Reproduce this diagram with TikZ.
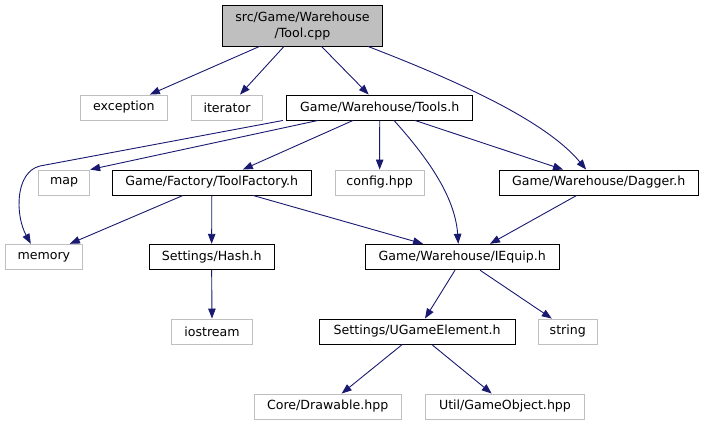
\documentclass[tikz,border=0pt]{standalone}
\usepackage{fontspec}
\setmainfont{DejaVu Sans}
\usetikzlibrary{arrows.meta}
\definecolor{edgeblue}{RGB}{25,25,112}
\definecolor{sysgray}{RGB}{191,191,191}
\definecolor{boxblack}{RGB}{0,0,0}
\tikzset{
  base/.style={draw, line width=0.9pt, inner sep=0pt, anchor=center, align=center,
    font=\fontsize{12.6}{15.5}\selectfont},
  blk/.style={base, draw=boxblack},
  sys/.style={base, draw=sysgray},
  rootbox/.style={base, draw=boxblack, fill=sysgray},
  edge/.style={draw=edgeblue, line width=0.9pt,
    -{Triangle[length=10pt,width=7.5pt]}, color=edgeblue},
}
\begin{document}
\begin{tikzpicture}[x=1pt,y=-1pt]
\useasboundingbox (0,0) rectangle (703,425);
% nodes
\node[rootbox, minimum width=160.4pt, minimum height=40.3pt] (tool) at (302.5,25.85) {src/Game/Warehouse\\/Tool.cpp};
\node[sys, minimum width=86.3pt, minimum height=25pt] (exception) at (123.85,107.5) {exception};
\node[sys, minimum width=71.4pt, minimum height=25pt] (iterator) at (227,107.5) {iterator};
\node[blk, minimum width=186pt, minimum height=25pt] (tools) at (379.7,107.5) {Game/Warehouse/Tools.h};
\node[sys, minimum width=51pt, minimum height=25pt] (map) at (64.2,182.5) {map};
\node[blk, minimum width=199pt, minimum height=25pt] (toolfactory) at (211.8,182.5) {Game/Factory/ToolFactory.h};
\node[sys, minimum width=89.3pt, minimum height=25pt] (config) at (379.65,182.5) {config.hpp};
\node[blk, minimum width=199.3pt, minimum height=25pt] (dagger) at (598.65,182.5) {Game/Warehouse/Dagger.h};
\node[sys, minimum width=77.7pt, minimum height=25.5pt] (memory) at (43.85,257) {memory};
\node[blk, minimum width=124.7pt, minimum height=25.5pt] (hash) at (211.65,257) {Settings/Hash.h};
\node[blk, minimum width=194pt, minimum height=25.5pt] (iequip) at (462.3,257) {Game/Warehouse/IEquip.h};
\node[sys, minimum width=80.6pt, minimum height=25pt] (iostream) at (212,331.5) {iostream};
\node[blk, minimum width=195.7pt, minimum height=25pt] (ugame) at (417.15,331.5) {Settings/UGameElement.h};
\node[sys, minimum width=59pt, minimum height=25pt] (string) at (567.8,331.5) {string};
\node[sys, minimum width=146.7pt, minimum height=25pt] (drawable) at (327.65,406.5) {Core/Drawable.hpp};
\node[sys, minimum width=158.6pt, minimum height=25pt] (gameobject) at (505,406.5) {Util/GameObject.hpp};
% edges from Tool.cpp
\draw[edge] ([xshift=-43pt]tool.south) -- ([xshift=26pt]exception.north);
\draw[edge] ([xshift=-18.5pt]tool.south) -- ([xshift=13pt]iterator.north);
\draw[edge] ([xshift=19pt]tool.south) -- ([xshift=-11pt]tools.north);
\draw[edge] ([xshift=65.5pt]tool.south) .. controls (455,80) and (545,120) .. ([xshift=-12.5pt]dagger.north);
% edges from Tools.h
\draw[edge] ([xshift=-96.7pt]tools.south) -- (40,166) .. controls (15,172) and (15,215) .. ([xshift=-13pt]memory.north);
\draw[edge] ([xshift=-61.7pt]tools.south) -- (map.north east);
\draw[edge] ([xshift=-26.7pt]tools.south) -- ([xshift=31pt]toolfactory.north);
\draw[edge] (tools.south) -- (config.north);
\draw[edge] ([xshift=14.3pt]tools.south) .. controls (425,155) and (455,195) .. ([xshift=-4pt]iequip.north);
\draw[edge] ([xshift=35.3pt]tools.south) -- ([xshift=-35.6pt]dagger.north);
% edges from ToolFactory.h
\draw[edge] ([xshift=-28.8pt]toolfactory.south) -- ([xshift=26pt]memory.north);
\draw[edge] (toolfactory.south) -- (hash.north);
\draw[edge] ([xshift=41.2pt]toolfactory.south) -- ([xshift=-39.3pt]iequip.north);
% edge from Dagger.h
\draw[edge] ([xshift=-22pt]dagger.south) -- ([xshift=27.7pt]iequip.north);
% edge from Hash.h
\draw[edge] (hash.south) -- (iostream.north);
% edges from IEquip.h
\draw[edge] ([xshift=-7.3pt]iequip.south) -- ([xshift=7.85pt]ugame.north);
\draw[edge] ([xshift=17.7pt]iequip.south) -- ([xshift=-16pt]string.north);
% edges from UGameElement.h
\draw[edge] ([xshift=-14.85pt]ugame.south) -- ([xshift=14pt]drawable.north);
\draw[edge] ([xshift=14.55pt]ugame.south) -- ([xshift=-13.3pt]gameobject.north);
\end{tikzpicture}
\end{document}
